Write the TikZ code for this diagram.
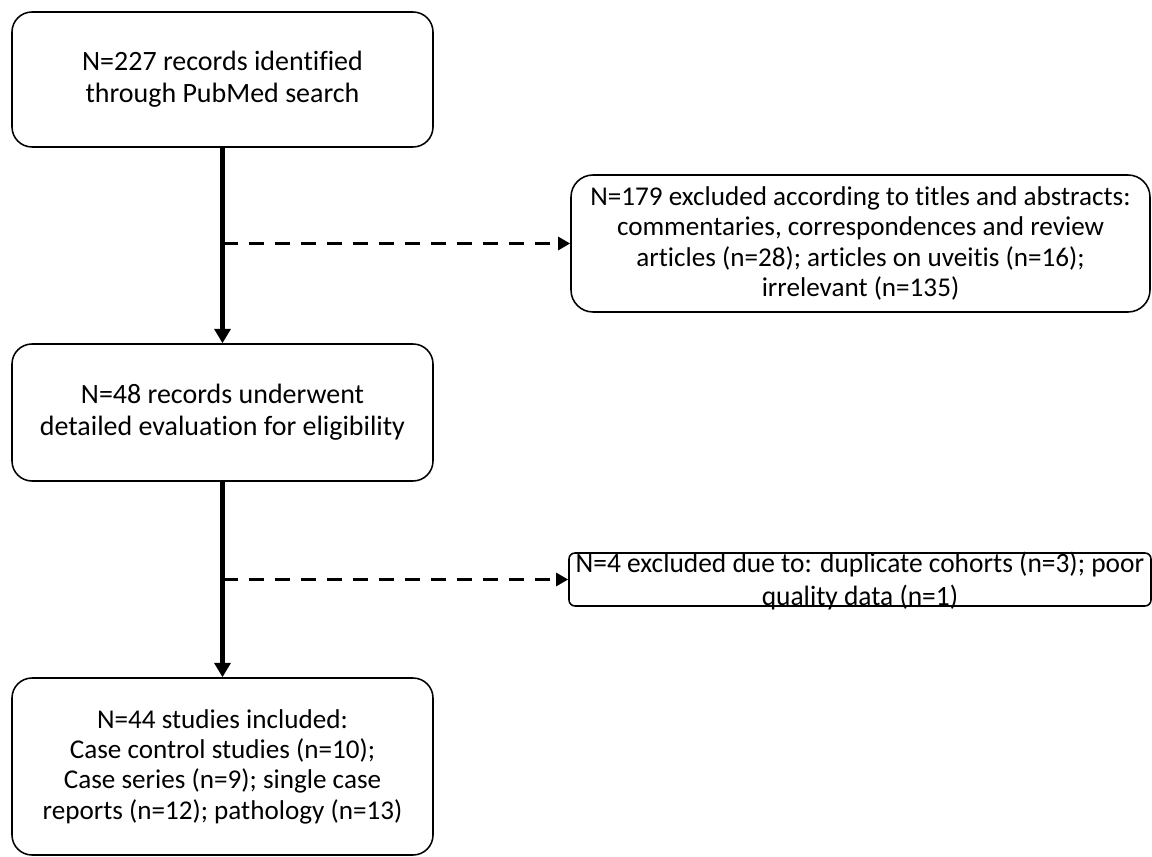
\documentclass[tikz,border=0pt]{standalone}
\usepackage{fontspec}
\setmainfont{Carlito}[Ligatures=NoCommon]
\newfontfamily\narrowfont[FakeStretch=0.98,Ligatures=NoCommon]{Carlito}
\usetikzlibrary{arrows.meta,positioning,calc}
\definecolor{ink}{RGB}{0,0,0}
\tikzset{
  >={Triangle[length=3.6mm,width=4mm]},
  box/.style={draw=ink,rounded corners=#1,line width=1.1pt,align=center,
    font=\fontsize{19.9}{23}\selectfont,inner sep=0pt},
  box/.default=5mm,
  small/.style={font=\fontsize{19.3}{21.6}\selectfont},
  flow/.style={->,line width=3pt,draw=ink},
  skip/.style={->,line width=2.8pt,draw=ink,dash pattern=on 3.75mm off 2.75mm,
    >={Triangle[length=3mm,width=3.2mm]}},
}

\begin{document}
\begin{tikzpicture}
  \useasboundingbox (0,0) rectangle (28.8,-21.425);
  \node[box,minimum width=10.525cm,minimum height=3.375cm] (rec) at (5.5625,-1.9875)
    {N=227 records identified\\through PubMed search};
  \node[box=5.5mm,small,minimum width=14.475cm,minimum height=3.425cm] (excl) at (21.5125,-6.0875)
    {N=179 excluded according to titles and abstracts:\\commentaries, correspondences and review\\articles (n=28); articles on uveitis (n=16);\\irrelevant (n=135)};
  \node[box,minimum width=10.525cm,minimum height=3.425cm] (eval) at (5.5625,-10.3125)
    {N=48 records underwent\\detailed evaluation for eligibility};
  \node[box=1.5mm,minimum width=14.55cm,minimum height=1.325cm] (drop) at (21.5,-14.4875) {};
  \node[font=\narrowfont\fontsize{19.9}{23.5}\selectfont,align=center,inner sep=0pt] (droptext)
    at ($(drop.center)+(0,-0.05)$) {N=4 excluded due to: duplicate cohorts (n=3); poor\\quality data (n=1)};
  \node[box,small,minimum width=10.525cm,minimum height=4.425cm] (incl) at (5.5625,-19.1625)
    {N=44 studies included:\\Case control studies (n=10);\\Case series (n=9); single case\\reports (n=12); pathology (n=13)};

  \draw[flow] (rec) -- (eval);
  \draw[flow] (eval) -- (incl);
  \draw[skip] (rec.south |- excl.west) -- (excl.west);
  \draw[skip] (eval.south |- drop.west) -- (drop.west);
\end{tikzpicture}
\end{document}
